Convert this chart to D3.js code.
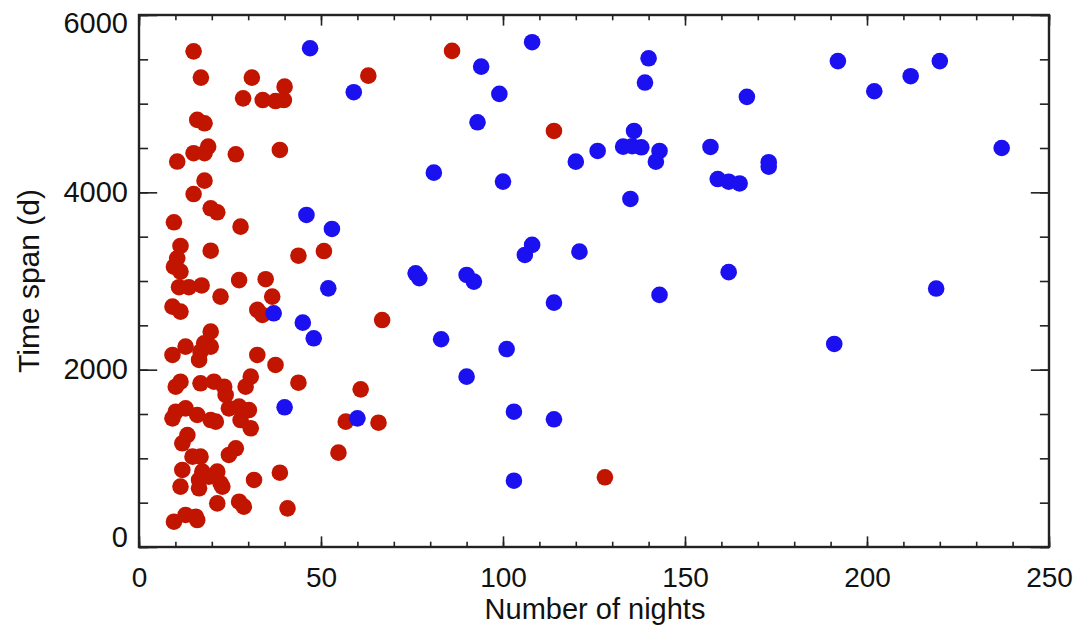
<!DOCTYPE html>
<html>
<head>
<meta charset="utf-8">
<script src="https://cdn.jsdelivr.net/npm/d3@7"></script>
<style>
  body { margin: 0; background: #fff; }
  svg { display: block; font-family: "Liberation Sans", Arial, Helvetica, sans-serif; }
  .axis path, .axis line { stroke: #222; }
  .axis text { fill: #111; }
</style>
</head>
<body>
<div id="chart"></div>
<script>
// red sample: [nights, time span]
var redPoints = [
  [15,5590],[86,5595],[17,5294],[31,5294],[63,5316],[40,5192],[28.6,5060],[34,5041],[37.5,5030],[39.8,5041],
  [16,4817],[18,4779],[19,4516],[18,4441],[15,4441],[10.5,4347],[26.6,4429],[38.7,4478],[114,4692],[18,4132],
  [15,3981],[19.7,3820],[21.5,3775],[9.6,3662],[27.9,3613],[11.4,3395],[10.5,3256],[9.6,3162],[11.4,3106],[19.7,3342],
  [43.8,3285],[50.8,3338],[11,2930],[13.7,2930],[17.2,2950],[27.5,3010],[34.8,3020],[22.4,2824],[36.6,2824],[9.2,2711],
  [11.4,2655],[32.5,2674],[33.9,2617],[66.8,2560],[19.7,2429],[17.9,2297],[12.8,2260],[16.9,2203],[19.7,2260],[9.2,2166],
  [16.5,2110],[32.5,2166],[37.5,2053],[30.7,1921],[29.3,1808],[43.8,1853],[60.9,1778],[10.1,1808],[11.4,1864],[16.9,1846],
  [20.6,1864],[23.4,1808],[23.8,1715],[24.7,1564],[27.5,1583],[30.2,1545],[10.1,1526],[12.8,1564],[9.2,1451],[16,1489],
  [19.7,1432],[21.1,1414],[27.9,1432],[30.7,1339],[56.8,1414],[65.8,1402],[13.3,1263],[11.9,1170],[14.7,1019],[16.9,1019],
  [26.6,1113],[24.7,1038],[54.8,1064],[11.9,869],[17.4,850],[19.2,793],[21.5,850],[16.5,756],[22.4,718],[11.4,681],
  [16.5,662],[22.9,681],[31.6,756],[38.7,838],[21.5,492],[27.5,511],[28.8,455],[40.8,436],[9.6,285],[12.8,361],
  [15.6,342],[16,304],[128,786]
];
// blue sample
var bluePoints = [
  [47,5625],[59,5129],[108,5693],[94,5418],[99,5110],[93,4790],[81,4222],[100,4121],[120,4346],[126,4467],
  [136,4692],[133,4515],[135.5,4520],[138,4508],[143,4467],[142,4346],[140,5512],[139,5238],[157,4512],[135,3925],
  [108,3407],[106,3294],[121,3331],[76,3087],[77,3031],[90,3068],[92,2993],[162,3100],[114,2756],[143,2843],
  [83,2343],[101,2233],[90,1921],[103,1526],[114,1440],[103,748],[220,5480],[192,5480],[202,5140],[212,5310],
  [167,5077],[237,4500],[173,4340],[173,4290],[159,4150],[162,4120],[165,4100],[219,2915],[191,2290],
  [46,3745],[53,3587],[52,2917],[37,2636],[45,2530],[48,2354],[40,1576],[60,1451]
];
var xTicks = [0, 50, 100, 150, 200, 250];
var yTicks = [0, 2000, 4000, 6000];
var xMinor = d3.range(0, 251, 10);
var yMinor = d3.range(0, 6001, 500);

var W = 1078, H = 626;
var margin = {top: 15, right: 29, bottom: 79, left: 139};
var width = W - margin.left - margin.right,
    height = H - margin.top - margin.bottom;

var svg = d3.select('#chart').append('svg')
    .attr('width', W).attr('height', H);
var g = svg.append('g')
    .attr('transform', 'translate(' + margin.left + ',' + margin.top + ')');

var x = d3.scaleLinear().domain([0, 250]).range([0, width]);
var y = d3.scaleLinear().domain([0, 6000]).range([height, 0]);

// tick length like IDL: fraction of the plot size
var xMaj = 0.02 * height, xMin = 0.01 * height;
var yMaj = 0.02 * width, yMin = 0.01 * width;

// dots first so the frame sits on top
g.selectAll('circle.red').data(redPoints)
  .enter().append('circle').attr('class', 'red')
  .attr('cx', function (d) { return x(d[0]); })
  .attr('cy', function (d) { return y(d[1]); })
  .attr('r', 8.3)
  .attr('fill', '#c21500');

g.selectAll('circle.blue').data(bluePoints)
  .enter().append('circle').attr('class', 'blue')
  .attr('cx', function (d) { return x(d[0]); })
  .attr('cy', function (d) { return y(d[1]); })
  .attr('r', 8.3)
  .attr('fill', '#1a10f0');

function styleAxis(sel, fontSize) {
  sel.attr('class', 'axis');
  sel.select('.domain').remove();
  sel.selectAll('line').attr('stroke-width', 1.6);
  sel.selectAll('text').style('font-size', fontSize + 'px');
}

// bottom axis
g.append('g').attr('transform', 'translate(0,' + height + ')')
  .call(d3.axisBottom(x).tickValues(xTicks).tickSize(-xMaj).tickPadding(20).tickFormat(d3.format('d')))
  .call(styleAxis, 28);
g.append('g').attr('transform', 'translate(0,' + height + ')')
  .call(d3.axisBottom(x).tickValues(xMinor).tickSize(-xMin).tickFormat(''))
  .call(styleAxis, 0);
// top axis
g.append('g')
  .call(d3.axisTop(x).tickValues(xTicks).tickSize(-xMaj).tickFormat(''))
  .call(styleAxis, 0);
g.append('g')
  .call(d3.axisTop(x).tickValues(xMinor).tickSize(-xMin).tickFormat(''))
  .call(styleAxis, 0);

// left axis
var yl = g.append('g')
  .call(d3.axisLeft(y).tickValues(yTicks).tickSize(-yMaj).tickPadding(11).tickFormat(d3.format('d')))
  .call(styleAxis, 29);
// IDL keeps end labels inside the frame
yl.selectAll('text').attr('dy', function (d) {
  if (d === 0) return '-0.02em';
  if (d === 6000) return '0.6em';
  return '0.32em';
});
g.append('g')
  .call(d3.axisLeft(y).tickValues(yMinor).tickSize(-yMin).tickFormat(''))
  .call(styleAxis, 0);
// right axis
g.append('g').attr('transform', 'translate(' + width + ',0)')
  .call(d3.axisRight(y).tickValues(yTicks).tickSize(-yMaj).tickFormat(''))
  .call(styleAxis, 0);
g.append('g').attr('transform', 'translate(' + width + ',0)')
  .call(d3.axisRight(y).tickValues(yMinor).tickSize(-yMin).tickFormat(''))
  .call(styleAxis, 0);

// frame
g.append('rect')
  .attr('width', width).attr('height', height)
  .attr('fill', 'none').attr('stroke', '#222').attr('stroke-width', 2.4);

// axis titles
g.append('text')
  .attr('x', width / 2 + 1).attr('y', height + 72)
  .attr('text-anchor', 'middle')
  .style('font-size', '29px').attr('fill', '#111')
  .text('Number of nights');

g.append('text')
  .attr('transform', 'translate(' + (-100) + ',' + (height / 2 - 0) + ') rotate(-90)')
  .attr('text-anchor', 'middle')
  .style('font-size', '30px').attr('fill', '#111')
  .text('Time span (d)');
</script>
</body>
</html>
